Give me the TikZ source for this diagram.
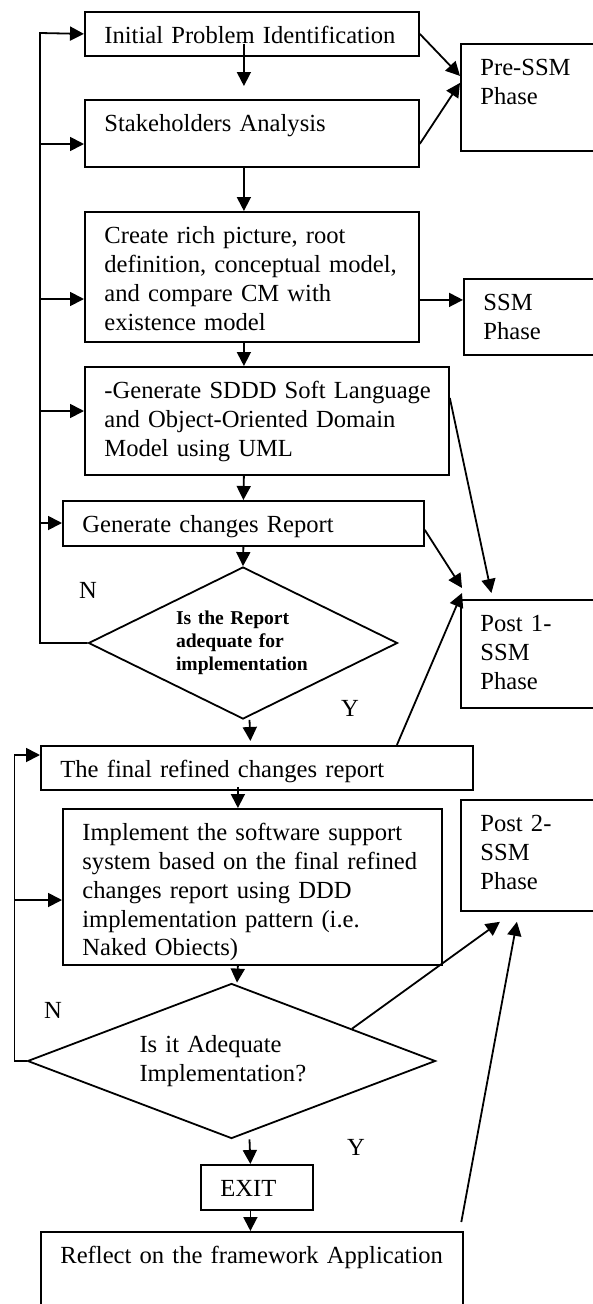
\documentclass[tikz,border=0pt]{standalone}
\usepackage{fontspec}
\setmainfont{Liberation Serif}
\usepackage{tikz}
\usetikzlibrary{shapes.geometric,arrows.meta}

\begin{document}
\begin{tikzpicture}[x=1pt,y=-1pt,line width=1.8pt,>={Triangle[length=14pt,width=14pt]},
		stage/.style={draw,anchor=north west,align=left,inner xsep=19.5pt,inner ysep=0pt,text height=32pt,font=\fontsize{24.6}{28.7}\selectfont},
		query/.style={draw,diamond,align=left,inner sep=2pt,font=\fontsize{24.6}{28.7}\selectfont},
		answer/.style={anchor=base,font=\fontsize{24.6}{28.7}\selectfont}]
			\useasboundingbox (0,0) rectangle (593,1304);
			\clip (0,0) rectangle (593,1304);
			\node[stage,text width=295pt,text depth=12pt] (ident) at (84,11) {Initial Problem Identification};
			\node[stage,text width=295pt,text depth=35pt] (stake) at (84,99) {Stakeholders Analysis};
			\node[stage,text width=295pt,text depth=98pt] (rich) at (84,211) {Create rich picture, root\\definition, conceptual model,\\and compare CM with\\existence model};
			\node[stage,text width=325pt,text depth=76pt] (model) at (84,366) {\mbox{-Generate SDDD Soft Language}\\and Object-Oriented Domain\\Model using UML};
			\node[stage,text width=322pt,text depth=13pt] (report) at (62,500) {Generate changes Report};
			\node[query,text width=134pt,minimum width=309pt,minimum height=152pt,aspect=2,font=\fontsize{19.6}{23}\selectfont\bfseries] (check) at (243,643) {Is the Report\\adequate for\\implementation};
			\node[stage,text width=393pt,text depth=12pt] (final) at (40,745) {The final refined changes report};
			\node[stage,text width=340pt,text depth=124pt] (impl) at (62,808) {Implement the software support\\system based on the final refined\\changes report using DDD\\implementation pattern (i.e.\\Naked Obiects)};
			\node[query,text width=184pt,minimum width=408pt,minimum height=155pt,aspect=2.6] (adequ) at (231.5,1061) {Is it Adequate\\Implementation?};
			\node[stage,text width=73pt,text depth=13pt] (exit) at (200,1164) {EXIT};
			\node[stage,text width=383pt,text depth=68pt] (reflect) at (40,1231) {Reflect on the framework Application};
			\node[stage,text width=101pt,text depth=75pt] (pre) at (460,43) {Pre-SSM\\Phase};
			\node[stage,text width=98pt,text depth=44pt] (ssm) at (463,278) {SSM\\Phase};
			\node[stage,text width=101pt,text depth=76pt] (post1) at (460,599) {Post 1-\\SSM\\Phase};
			\node[stage,text width=101pt,text depth=79pt] (post2) at (460,799) {Post 2-\\SSM\\Phase};
			\node[answer] (no1) at (88,598) {N};
			\node[answer] (yes1) at (350,716) {Y};
			\node[answer] (no2) at (53,1018) {N};
			\node[answer] (yes2) at (356,1155) {Y};
			\draw[->] ([xshift=-8pt,yshift=13pt]ident.south) -- ([xshift=-8pt,yshift=13pt]stake.north);
			\draw[->] ([xshift=-8pt]stake.south) -- ([xshift=-8pt]rich.north);
			\draw[->] ([xshift=-8pt]rich.south) -- ([xshift=-23pt]model.north);
			\draw[->] ([xshift=-23pt]model.south) -- (report.north);
			\draw[->] (report.south) -- (check.north);
			\draw[->] ([xshift=6.5pt]check.south) -- ([xshift=-6.5pt,yshift=4pt]final.north);
			\draw[->] ([xshift=-19pt,yshift=4pt]final.south) -- ([xshift=-14.5pt]impl.north);
			\draw[->] ([xshift=-14.5pt]impl.south) -- ([xshift=5.5pt]adequ.north);
			\draw[->] ([xshift=18pt]adequ.south) -- ([xshift=-6.5pt]exit.north);
			\draw[->] ([xshift=-6.5pt]exit.south) -- ([xshift=-1.5pt]reflect.north);
			\draw[->] (ident.east) -- ([yshift=21.5pt]pre.west);
			\draw[->] ([yshift=-10.5pt]stake.east) -- ([yshift=14.5pt]pre.west);
			\draw[->] ([yshift=-23pt]rich.east) -- ([yshift=17pt]ssm.west);
			\draw[->] ([yshift=23pt]model.east) -- ([xshift=-39.5pt,yshift=6pt]post1.north);
			\draw[->] ([yshift=-6.5pt]report.east) -- ([xshift=2pt,yshift=11pt]post1.north west);
			\draw[->] ([xshift=140pt]final.north) -- ([xshift=2pt,yshift=6pt]post1.north west);
			\draw[->] (adequ.15) -- ([xshift=-31pt,yshift=-10pt]post2.south);
			\draw[->] ([xshift=-2.5pt,yshift=9pt]reflect.north east) -- ([xshift=-14pt,yshift=-10pt]post2.south);
			\coordinate (loopA) at (40,33);
			\coordinate (inStake) at (40,144);
			\coordinate (inRich) at (40,299);
			\coordinate (inModel) at (40,411);
			\coordinate (inReport) at (40,523);
			\draw[->] (check.west) -| (loopA) -- (ident.west);
			\draw[->] (inStake) -- (inStake -| stake.west);
			\draw[->] (inRich) -- (inRich -| rich.west);
			\draw[->] (inModel) -- (inModel -| model.west);
			\draw[->] (inReport) -- (inReport -| report.west);
			\coordinate (loopB) at (14.5,755);
			\coordinate (inImpl) at (14.5,900);
			\draw[->] (adequ.west) -| (loopB) -- (loopB -| final.west);
			\draw[->] (inImpl) -- (inImpl -| impl.west);
		\end{tikzpicture}
\end{document}
